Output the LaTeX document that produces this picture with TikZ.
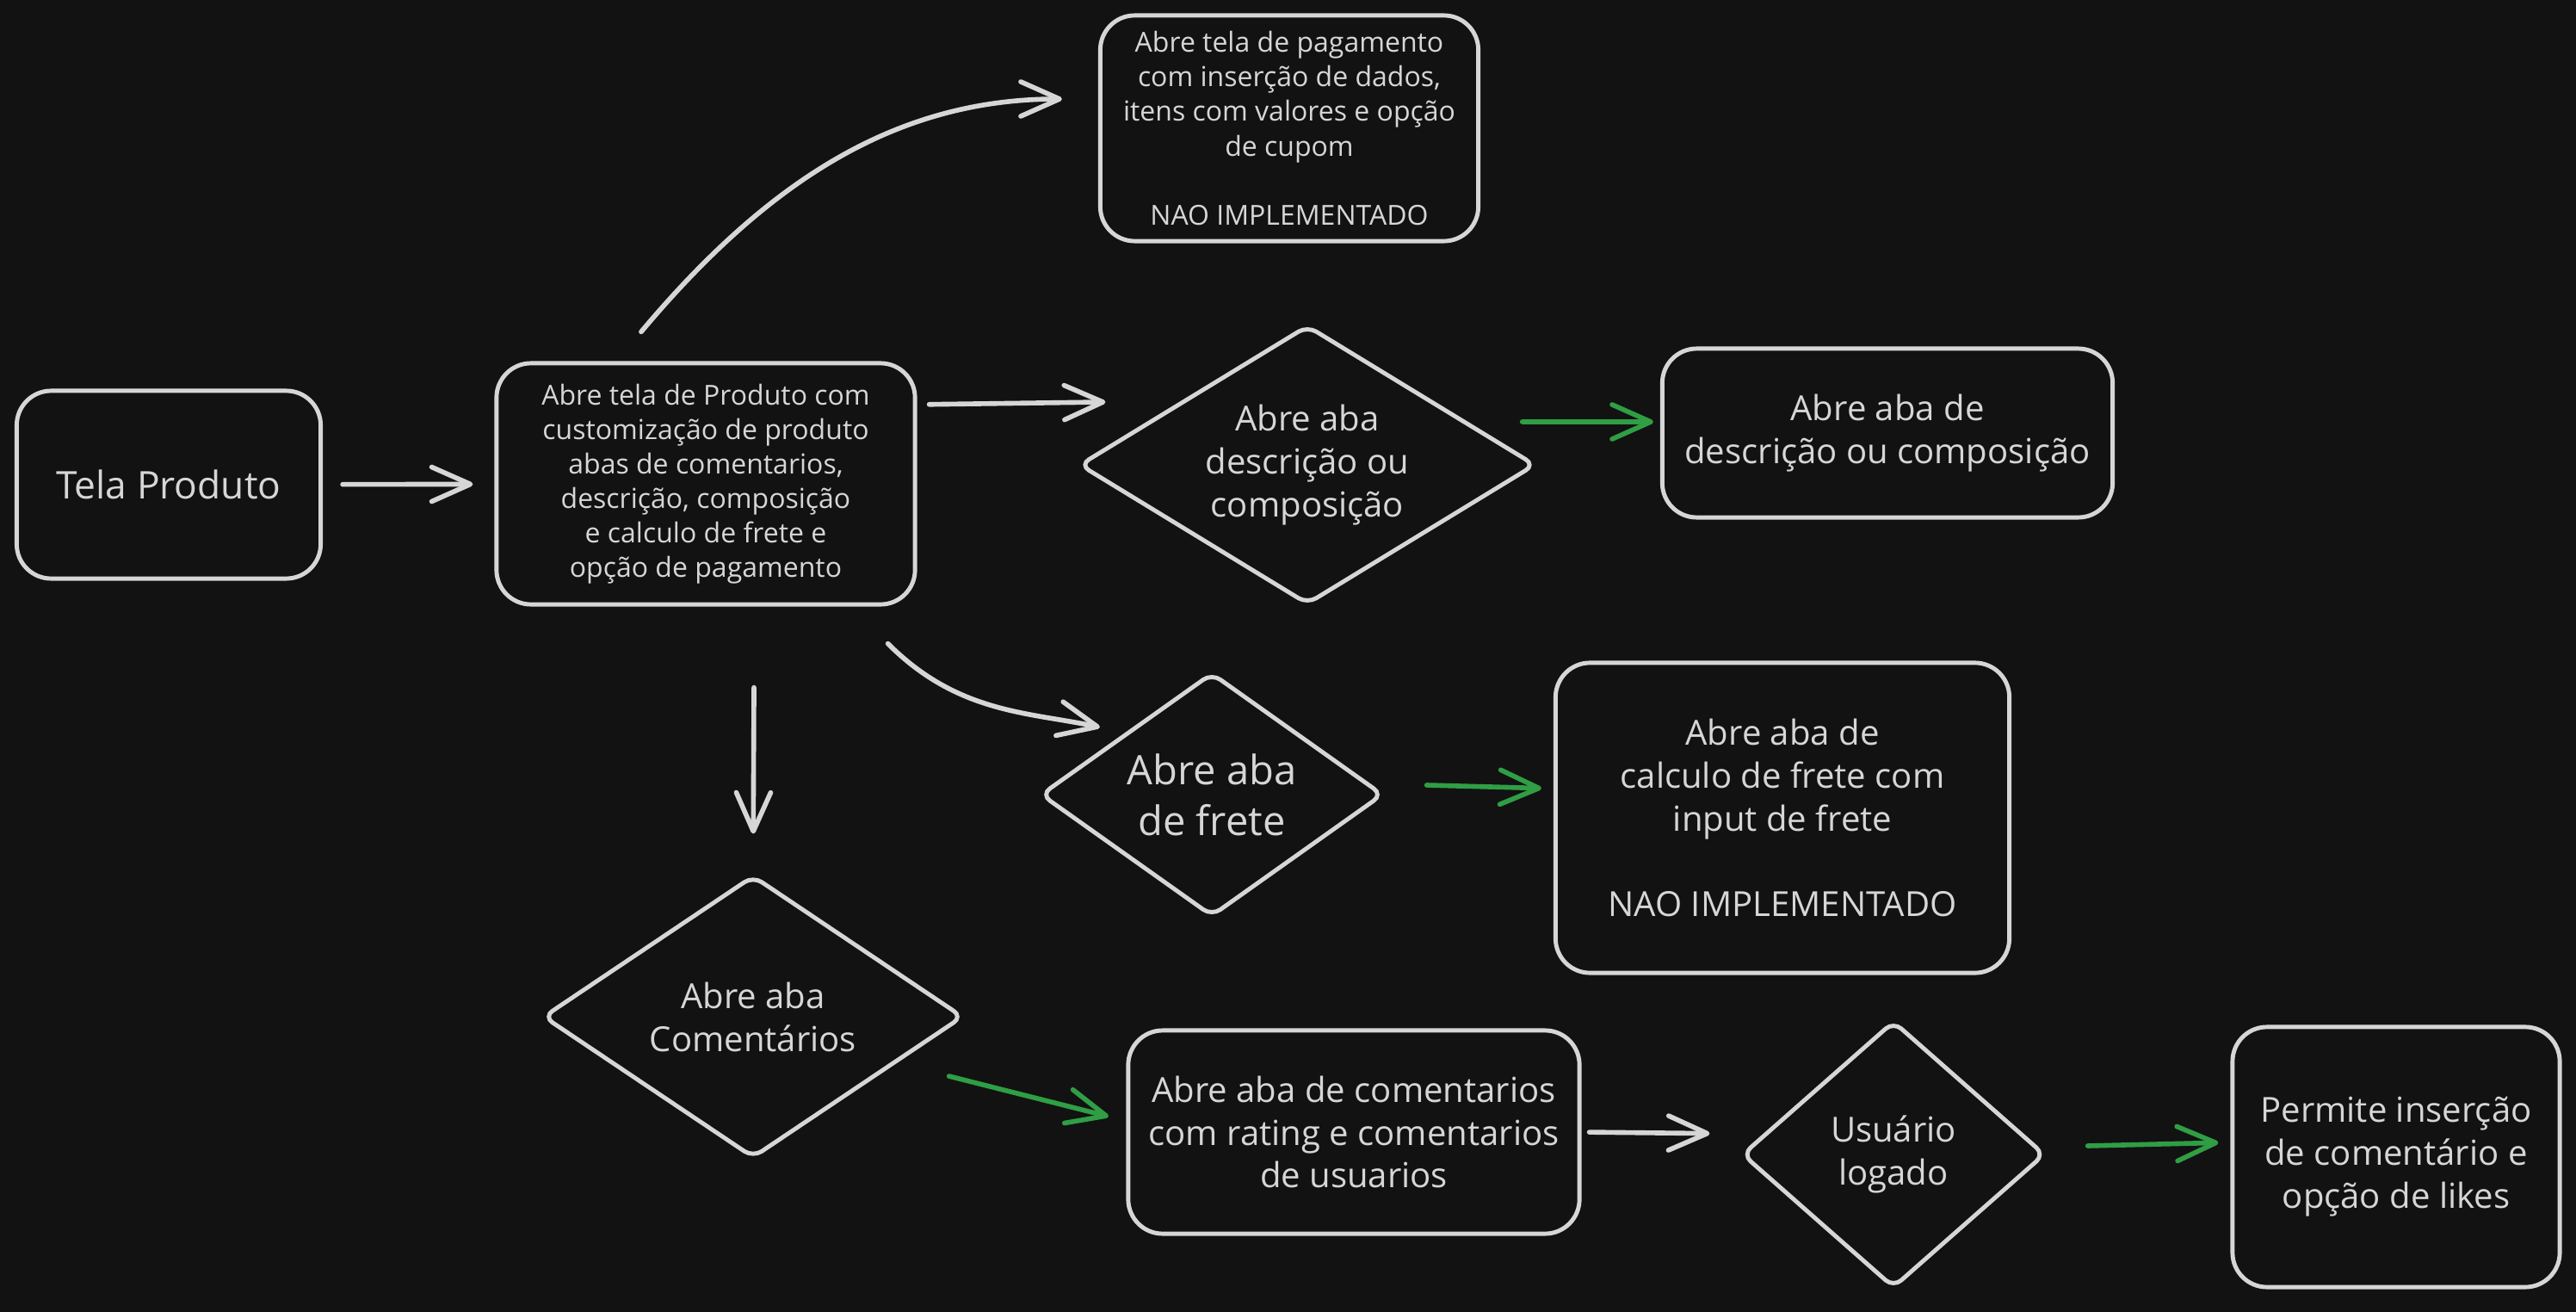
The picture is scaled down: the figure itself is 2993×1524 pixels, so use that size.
\documentclass[tikz,border=0pt]{standalone}
\usepackage{fontspec}
\setmainfont{Open Sans}
\usetikzlibrary{shapes.geometric,arrows.meta}
\definecolor{bg}{HTML}{121212}
\definecolor{ink}{HTML}{D6D6D6}
\definecolor{okgreen}{HTML}{2F9E44}
\begin{document}
\begin{tikzpicture}
  [x=0.01cm,y=-0.01cm,
  every node/.style={text=ink,align=center},
  box/.style={draw=ink,fill=bg,line width=1.4pt,rounded corners=0.4cm,inner sep=0pt},
  decision/.style={draw=ink,fill=bg,line width=1.4pt,diamond,rounded corners=0.12cm,inner sep=0pt},
  tiny/.style={font=\fontsize{9.1}{11.4}\selectfont},
  mid/.style={font=\fontsize{11.4}{14.2}\selectfont},
  big/.style={font=\fontsize{13.4}{16.8}\selectfont},
  link/.style={draw=ink,line width=1.6pt,line cap=round,-{Straight Barb[length=4.5mm,width=4mm,round]}},
  ok/.style={link,draw=okgreen}]
  \useasboundingbox[fill=bg] (0,0) rectangle (2993,1524);
  \node[box,font=\fontsize{12.6}{15.8}\selectfont,minimum width=3.53cm,minimum height=2.18cm] (tela) at (196,563) {Tela Produto};
  \node[box,tiny,minimum width=4.86cm,minimum height=2.80cm] (main) at (820,562)
    {Abre tela de Produto com\\customização de produto\\abas de comentarios,\\descrição, composição\\e calculo de frete e\\opção de pagamento};
  \node[box,tiny,minimum width=4.39cm,minimum height=2.62cm] (pay) at (1498,149)
    {Abre tela de pagamento\\com inserção de dados,\\itens com valores e opção\\de cupom\\[11.4pt]NAO IMPLEMENTADO};
  \node[decision,mid,shape aspect=1.64,minimum width=5.30cm,minimum height=3.24cm] (ddesc) at (1519,540)
    {Abre aba\\descrição ou\\composição};
  \node[box,mid,minimum width=5.23cm,minimum height=1.96cm] (descbox) at (2193,503)
    {Abre aba de\\descrição ou composição};
  \node[decision,big,shape aspect=1.41,minimum width=3.98cm,minimum height=2.83cm] (dfrete) at (1408,923)
    {Abre aba\\de frete};
  \node[box,mid,minimum width=5.27cm,minimum height=3.60cm] (fretebox) at (2071,950)
    {Abre aba de\\calculo de frete com\\input de frete\\[14.2pt]NAO IMPLEMENTADO};
  \node[decision,mid,shape aspect=1.49,minimum width=4.88cm,minimum height=3.28cm] (dcom) at (875,1181)
    {Abre aba\\Comentários};
  \node[box,mid,minimum width=5.24cm,minimum height=2.36cm] (combox) at (1573,1315)
    {Abre aba de comentarios\\com rating e comentarios\\de usuarios};
  \node[decision,mid,shape aspect=1.13,minimum width=3.52cm,minimum height=3.10cm] (dlog) at (2200,1341)
    {Usuário\\logado};
  \node[box,mid,minimum width=3.80cm,minimum height=3.02cm] (perm) at (2784,1344)
    {Permite inserção\\de comentário e\\opção de likes};
  \draw[link,shorten <=2.3mm,shorten >=2.5mm] (tela) -- (main);
  \draw[link,shorten >=4.2mm] ([xshift=-7.5mm,yshift=3.4mm]main.north) to[out=50,in=180] ([yshift=3.4mm]pay.west);
  \draw[link,shorten <=1.4mm] ([yshift=9.2mm]main.east) -- ([xshift=3.3mm,yshift=7.3mm]ddesc.west);
  \draw[ok,shorten >=0.8mm] ([xshift=-1.8mm,yshift=5mm]ddesc.east) -- ([yshift=1.3mm]descbox.west);
  \draw[link,shorten >=3mm] ([xshift=-3.4mm,yshift=-4.3mm]main.south east) to[out=-45,in=168] (dfrete.north west);
  \draw[ok,shorten >=1.4mm] ([xshift=4.8mm,yshift=1.1mm]dfrete.east) -- ([yshift=3.4mm]fretebox.west);
  \draw[link,shorten >=4.6mm] ([xshift=5.6mm,yshift=-9.4mm]main.south) -- (dcom.north);
  \draw[ok,shorten >=2.1mm] ([xshift=-1.9mm,yshift=-6.9mm]dcom.east) -- ([yshift=1.3mm]combox.west);
  \draw[link,shorten <=0.9mm,shorten >=3.5mm] (combox.east) -- ([yshift=2.4mm]dlog.west);
  \draw[ok,shorten >=1.4mm] ([xshift=4.7mm,yshift=1mm]dlog.east) -- ([yshift=1.7mm]perm.west);
\end{tikzpicture}
\end{document}
